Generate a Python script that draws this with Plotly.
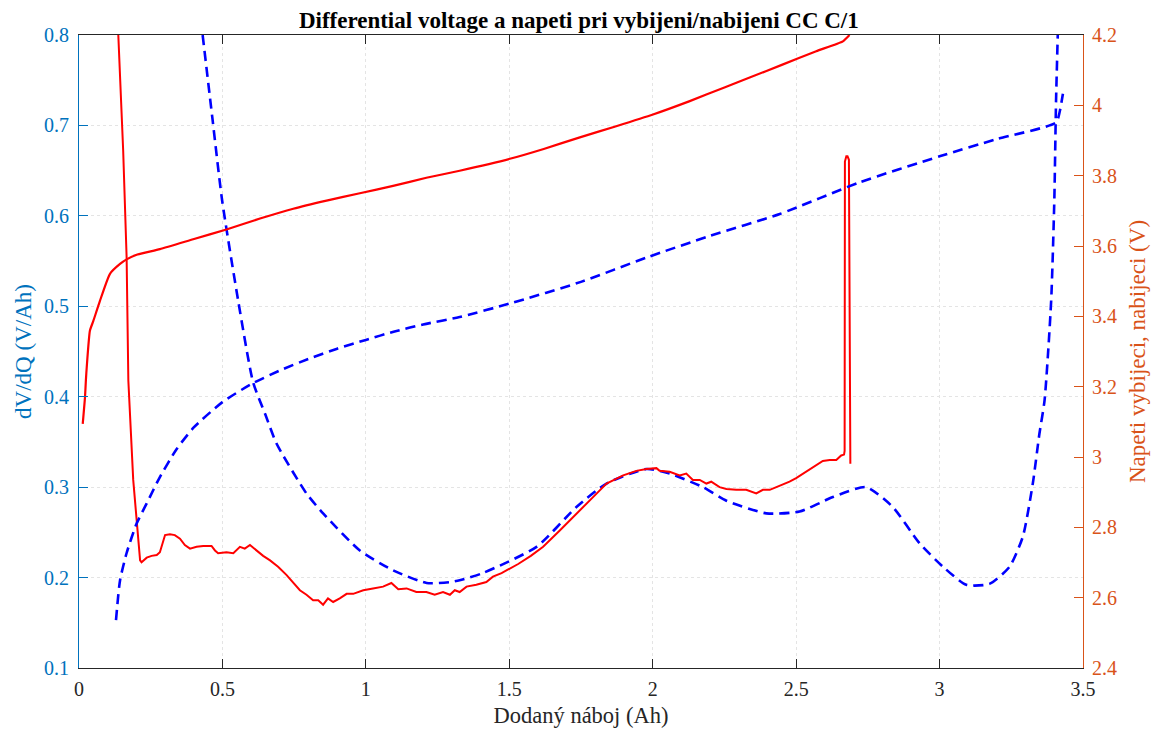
import plotly.graph_objects as go

# ---------------- data ----------------
# Charge voltage (right axis, V)
chg_v_x = [0.013, 0.021, 0.024, 0.027, 0.038, 0.050, 0.073, 0.108, 0.143, 0.166, 0.201, 0.282,
           0.398, 0.514, 0.631, 0.747, 0.863, 0.979, 1.095, 1.211, 1.327, 1.502, 1.620, 1.746,
           1.870, 2.001, 2.129, 2.250, 2.338, 2.450, 2.570, 2.663, 2.686]
chg_v_y = [3.094, 3.171, 3.218, 3.256, 3.359, 3.387, 3.444, 3.521, 3.549, 3.562, 3.575, 3.591,
           3.619, 3.647, 3.678, 3.706, 3.729, 3.750, 3.771, 3.794, 3.814, 3.848, 3.876, 3.909,
           3.940, 3.974, 4.012, 4.051, 4.079, 4.115, 4.154, 4.182, 4.200]

# Discharge voltage (right axis, V)
dis_v_x = [0.129, 0.143, 0.166, 0.201, 0.236, 0.282, 0.340, 0.400, 0.500, 0.600, 0.700, 0.800,
           0.900, 1.000, 1.100, 1.200, 1.327, 1.500, 1.750, 1.978, 2.200, 2.443, 2.721, 3.000,
           3.200, 3.406, 3.418, 3.430]
dis_v_y = [2.536, 2.649, 2.727, 2.811, 2.868, 2.943, 3.022, 3.084, 3.156, 3.207, 3.246, 3.279,
           3.308, 3.333, 3.357, 3.377, 3.398, 3.436, 3.498, 3.567, 3.629, 3.691, 3.781, 3.855,
           3.904, 3.951, 3.979, 4.033]

# dV/dQ charge (left axis, V/Ah)
chg_d_x = [0.137, 0.154, 0.166, 0.172, 0.189, 0.201, 0.213, 0.218, 0.236, 0.253, 0.271, 0.282,
           0.300, 0.317, 0.334, 0.352, 0.369, 0.387, 0.410, 0.433, 0.462, 0.474, 0.485, 0.514,
           0.538, 0.561, 0.578, 0.596, 0.619, 0.642, 0.666, 0.694, 0.723, 0.747, 0.770, 0.793,
           0.816, 0.834, 0.851, 0.868, 0.886, 0.909, 0.933, 0.956, 0.991, 1.025, 1.060, 1.089,
           1.113, 1.142, 1.176, 1.211, 1.240, 1.269, 1.293, 1.310, 1.327, 1.351, 1.385, 1.420,
           1.443, 1.473, 1.502, 1.531, 1.575, 1.618, 1.676, 1.734, 1.792, 1.839, 1.897, 1.943,
           1.978, 2.013, 2.024, 2.059, 2.094, 2.117, 2.140, 2.164, 2.187, 2.204, 2.233, 2.257,
           2.291, 2.326, 2.361, 2.384, 2.408, 2.431, 2.454, 2.477, 2.500, 2.524, 2.547, 2.570,
           2.593, 2.617, 2.640, 2.657, 2.667, 2.669, 2.670, 2.675, 2.679, 2.684, 2.687, 2.689]
chg_d_y = [0.800, 0.672, 0.554, 0.418, 0.308, 0.260, 0.219, 0.217, 0.222, 0.224, 0.225, 0.228,
           0.247, 0.248, 0.247, 0.243, 0.236, 0.232, 0.234, 0.235, 0.235, 0.230, 0.227, 0.228,
           0.227, 0.234, 0.232, 0.236, 0.230, 0.224, 0.219, 0.212, 0.203, 0.194, 0.186, 0.181,
           0.175, 0.175, 0.170, 0.177, 0.173, 0.177, 0.182, 0.182, 0.186, 0.188, 0.190, 0.194,
           0.187, 0.188, 0.184, 0.184, 0.181, 0.184, 0.181, 0.186, 0.184, 0.190, 0.192, 0.195,
           0.201, 0.205, 0.210, 0.215, 0.224, 0.234, 0.252, 0.271, 0.289, 0.304, 0.313, 0.318,
           0.320, 0.321, 0.318, 0.317, 0.313, 0.315, 0.308, 0.308, 0.304, 0.306, 0.300, 0.298,
           0.297, 0.297, 0.293, 0.297, 0.297, 0.300, 0.303, 0.306, 0.310, 0.315, 0.319, 0.324,
           0.329, 0.330, 0.330, 0.335, 0.336, 0.340, 0.660, 0.666, 0.666, 0.662, 0.420, 0.326]

# dV/dQ discharge (left axis, V/Ah)
dis_d_x = [0.431, 0.465, 0.499, 0.555, 0.607, 0.650, 0.689, 0.793, 0.851, 0.979, 1.095, 1.212,
           1.293, 1.327, 1.408, 1.595, 1.734, 1.839, 1.978, 2.059, 2.175, 2.257, 2.396, 2.512,
           2.628, 2.744, 2.837, 2.930, 3.012, 3.093, 3.174, 3.244, 3.290, 3.325, 3.348, 3.366,
           3.389, 3.400, 3.406, 3.412]
dis_d_y = [0.800, 0.708, 0.617, 0.506, 0.416, 0.380, 0.348, 0.293, 0.271, 0.230, 0.208, 0.194,
           0.195, 0.197, 0.205, 0.234, 0.278, 0.304, 0.320, 0.315, 0.300, 0.285, 0.271, 0.273,
           0.289, 0.300, 0.278, 0.238, 0.212, 0.192, 0.193, 0.212, 0.245, 0.304, 0.359, 0.396,
           0.506, 0.617, 0.727, 0.800]

x_ticks = [0, 0.5, 1, 1.5, 2, 2.5, 3, 3.5]
x_tick_text = ["0", "0.5", "1", "1.5", "2", "2.5", "3", "3.5"]
left_ticks = [0.1, 0.2, 0.3, 0.4, 0.5, 0.6, 0.7, 0.8]
left_tick_text = ["0.1", "0.2", "0.3", "0.4", "0.5", "0.6", "0.7", "0.8"]
right_ticks = [2.4, 2.6, 2.8, 3.0, 3.2, 3.4, 3.6, 3.8, 4.0, 4.2]
right_tick_text = ["2.4", "2.6", "2.8", "3", "3.2", "3.4", "3.6", "3.8", "4", "4.2"]

# ---------------- figure ----------------
LEFT_C = "#0072BD"
RIGHT_C = "#D95319"
AX_C = "#262626"
GRID_C = "#e4e4e4"
FONT = "Liberation Serif, Times New Roman, serif"
BLUE_DASH = "10px,6px"
W, H = 1151, 723  # page body has an 8px margin

fig = go.Figure()
fig.add_trace(go.Scatter(x=chg_v_x, y=chg_v_y, yaxis="y2", mode="lines",
                         line=dict(color="#FF0000", width=2.2, shape="spline", smoothing=0.5),
                         showlegend=False))
fig.add_trace(go.Scatter(x=dis_v_x, y=dis_v_y, yaxis="y2", mode="lines",
                         line=dict(color="#0000FF", width=2.6, dash=BLUE_DASH,
                                   shape="spline", smoothing=0.6), showlegend=False))
fig.add_trace(go.Scatter(x=dis_d_x, y=dis_d_y, yaxis="y", mode="lines",
                         line=dict(color="#0000FF", width=2.6, dash=BLUE_DASH,
                                   shape="spline", smoothing=0.6), showlegend=False))
fig.add_trace(go.Scatter(x=chg_d_x, y=chg_d_y, yaxis="y", mode="lines",
                         line=dict(color="#FF0000", width=2.0), showlegend=False))

fig.update_layout(
    width=W, height=H,
    margin=dict(l=71, r=76, t=27, b=63, autoexpand=False),
    paper_bgcolor="white", plot_bgcolor="white",
    font=dict(family=FONT, size=20, color=AX_C),
    title=dict(text="<b>Differential voltage a napeti pri vybijeni/nabijeni CC C/1</b>",
               x=(71 + (W - 76)) / 2 / W, xref="paper", xanchor="center",
               y=1 - 4 / H, yanchor="top", pad=dict(t=0, b=0),
               font=dict(family=FONT, size=23, color="#000000")),
    xaxis=dict(range=[0, 3.5], tickvals=x_ticks, ticktext=x_tick_text,
               ticks="inside", ticklen=9, tickcolor=AX_C, tickwidth=1,
               showline=True, linecolor=AX_C, linewidth=1, mirror="ticks",
               showgrid=True, gridcolor=GRID_C, griddash="dot", gridwidth=1,
               zeroline=False, automargin=False, ticklabelstandoff=3,
               tickfont=dict(size=20, color=AX_C),
               title=dict(text="Dodaný náboj (Ah)", font=dict(size=22.5, color=AX_C), standoff=8)),
    yaxis=dict(range=[0.1, 0.8], tickvals=left_ticks, ticktext=left_tick_text,
               ticks="inside", ticklen=9, tickcolor=LEFT_C, tickwidth=1,
               showline=True, linecolor=LEFT_C, linewidth=1,
               showgrid=True, gridcolor=GRID_C, griddash="dot", gridwidth=1,
               zeroline=False, automargin=False, ticklabelstandoff=5,
               tickfont=dict(size=20, color=LEFT_C),
               title=dict(text="dV/dQ (V/Ah)", font=dict(size=23, color=LEFT_C), standoff=5)),
    yaxis2=dict(range=[2.4, 4.2], tickvals=right_ticks, ticktext=right_tick_text,
                overlaying="y", side="right",
                ticks="inside", ticklen=9, tickcolor=RIGHT_C, tickwidth=1,
                showline=True, linecolor=RIGHT_C, linewidth=1,
                showgrid=False, zeroline=False, automargin=False, ticklabelstandoff=4,
                tickfont=dict(size=20, color=RIGHT_C),
                title=dict(text="Napeti vybijeci, nabijeci (V)", font=dict(size=23, color=RIGHT_C),
                           standoff=12)),
)

fig.write_html("out.html")
